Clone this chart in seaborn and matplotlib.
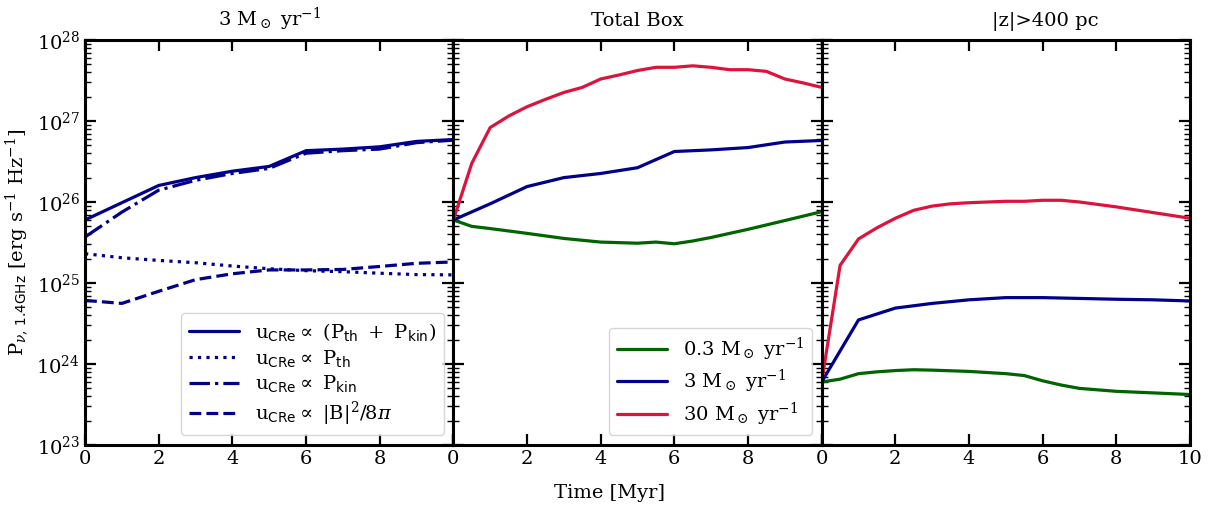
"""
Luminositat radio (1.4 GHz) vs temps: tres panells amb escala log.
"""
import matplotlib
matplotlib.use("Agg")
import matplotlib.pyplot as plt
import seaborn as sns

# =========================
# DADES
# =========================
# panell 1: 3 Msun/yr, diferents prescripcions de u_CRe
t_p1 = [0, 1, 2, 3, 4, 5, 6, 7, 8, 9, 10]
p1_total = [6.0e25, 9.8e25, 1.6e26, 2.0e26, 2.4e26, 2.75e26, 4.3e26, 4.5e26, 4.8e26, 5.6e26, 5.9e26]
p1_th = [2.3e25, 2.05e25, 1.9e25, 1.78e25, 1.62e25, 1.5e25, 1.42e25, 1.38e25, 1.32e25, 1.27e25, 1.26e25]
p1_kin = [3.7e25, 7.5e25, 1.4e26, 1.85e26, 2.25e26, 2.6e26, 4.0e26, 4.3e26, 4.5e26, 5.4e26, 5.8e26]
p1_mag = [6.1e24, 5.6e24, 7.9e24, 1.1e25, 1.3e25, 1.45e25, 1.45e25, 1.47e25, 1.6e25, 1.75e25, 1.82e25]

# panell 2: caixa total
t_box_03 = [0, 0.5, 1, 2, 3, 4, 5, 5.5, 6, 6.5, 7, 8, 9, 10]
box_03 = [6.0e25, 5.0e25, 4.7e25, 4.1e25, 3.55e25, 3.2e25, 3.1e25, 3.2e25, 3.05e25, 3.3e25, 3.65e25, 4.6e25, 5.9e25, 7.6e25]
t_box_3 = [0, 1, 2, 3, 4, 5, 6, 7, 8, 9, 10]
box_3 = [6.0e25, 9.5e25, 1.55e26, 2.0e26, 2.25e26, 2.65e26, 4.2e26, 4.4e26, 4.7e26, 5.5e26, 5.75e26]
t_box_30 = [0, 0.5, 1, 1.5, 2, 2.5, 3, 3.5, 4, 4.5, 5, 5.5, 6, 6.5, 7, 7.5, 8, 8.5, 9, 9.5, 10]
box_30 = [6.0e25, 3.0e26, 8.3e26, 1.15e27, 1.5e27, 1.85e27, 2.25e27, 2.6e27, 3.3e27, 3.7e27, 4.2e27,
          4.6e27, 4.6e27, 4.8e27, 4.6e27, 4.3e27, 4.3e27, 4.1e27, 3.3e27, 2.95e27, 2.6e27]

# panell 3: |z| > 400 pc
t_z_03 = [0, 0.5, 1, 1.5, 2, 2.5, 3, 4, 5, 5.5, 6, 6.5, 7, 8, 9, 10]
z_03 = [6.0e23, 6.5e23, 7.6e23, 8.0e23, 8.3e23, 8.5e23, 8.4e23, 8.1e23, 7.6e23, 7.2e23, 6.2e23, 5.5e23,
        5.0e23, 4.6e23, 4.4e23, 4.2e23]
t_z_3 = [0, 1, 2, 3, 4, 5, 6, 7, 8, 9, 10]
z_3 = [6.0e23, 3.5e24, 4.9e24, 5.6e24, 6.2e24, 6.6e24, 6.6e24, 6.45e24, 6.3e24, 6.2e24, 6.0e24]
t_z_30 = [0, 0.5, 1, 1.5, 2, 2.5, 3, 3.5, 4, 5, 5.5, 6, 6.5, 7, 8, 9, 10]
z_30 = [6.0e23, 1.65e25, 3.5e25, 4.8e25, 6.3e25, 7.9e25, 8.9e25, 9.5e25, 9.8e25, 1.02e26, 1.02e26,
        1.05e26, 1.05e26, 1.0e26, 8.7e25, 7.4e25, 6.3e25]

titols = [r'3 M$_\odot$ yr$^{-1}$', 'Total Box', r'|z|>400 pc']
lab_sfr = [r'0.3 M$_\odot$ yr$^{-1}$', r'3 M$_\odot$ yr$^{-1}$', r'30 M$_\odot$ yr$^{-1}$']
lab_ucre = [r'$\mathrm{u}_{\mathsf{CRe}} \propto\ (\mathrm{P}_{\mathsf{th}}\ +\ \mathrm{P}_{\mathsf{kin}})$',
            r'$\mathrm{u}_{\mathsf{CRe}} \propto\ \mathrm{P}_{\mathsf{th}}$',
            r'$\mathrm{u}_{\mathsf{CRe}} \propto\ \mathrm{P}_{\mathsf{kin}}$',
            r'$\mathrm{u}_{\mathsf{CRe}} \propto\ |\mathrm{B}|^2/8\pi$']

col_03 = '#006400'
col_3 = '#00008B'
col_30 = '#DC143C'

# =========================
# ESTIL
# =========================
sns.set_style("ticks")
plt.rcParams['font.family'] = ['DejaVu Serif']
plt.rcParams['mathtext.fontset'] = 'dejavuserif'
plt.rcParams['font.size'] = 14
for k in ['text.color', 'axes.labelcolor', 'xtick.color', 'ytick.color', 'axes.edgecolor']:
    plt.rcParams[k] = 'black'

fig, axes = plt.subplots(1, 3, figsize=(12.2, 5.05), dpi=100, sharey=True)
fig.subplots_adjust(left=0.0697, right=0.9754, top=0.9208, bottom=0.1188, wspace=0)

lw = 2.3
ax = axes[0]
sns.lineplot(x=t_p1, y=p1_total, ax=ax, color=col_3, lw=lw, ls='-', label=lab_ucre[0])
sns.lineplot(x=t_p1, y=p1_th, ax=ax, color=col_3, lw=lw, ls=':', label=lab_ucre[1])
sns.lineplot(x=t_p1, y=p1_kin, ax=ax, color=col_3, lw=lw, ls='-.', label=lab_ucre[2])
sns.lineplot(x=t_p1, y=p1_mag, ax=ax, color=col_3, lw=lw, ls='--', label=lab_ucre[3])

ax = axes[1]
sns.lineplot(x=t_box_03, y=box_03, ax=ax, color=col_03, lw=lw, label=lab_sfr[0])
sns.lineplot(x=t_box_3, y=box_3, ax=ax, color=col_3, lw=lw, label=lab_sfr[1])
sns.lineplot(x=t_box_30, y=box_30, ax=ax, color=col_30, lw=lw, label=lab_sfr[2])

ax = axes[2]
sns.lineplot(x=t_z_03, y=z_03, ax=ax, color=col_03, lw=lw, legend=False)
sns.lineplot(x=t_z_3, y=z_3, ax=ax, color=col_3, lw=lw, legend=False)
sns.lineplot(x=t_z_30, y=z_30, ax=ax, color=col_30, lw=lw, legend=False)

# posicio horitzontal dels titols (el tercer esta desplacat a la dreta)
titol_x = [0.5, 0.5, 0.606]

for i, ax in enumerate(axes):
    ax.set_yscale('log')
    ax.set_ylim(1e23, 1e28)
    ax.set_xlim(0, 10)
    ax.set_xticks([0, 2, 4, 6, 8, 10])
    if i < 2:
        ax.set_xticklabels(['0', '2', '4', '6', '8', ''])
    ax.set_title(titols[i], fontsize=14, pad=10, x=titol_x[i])
    ax.set_xlabel('')
    ax.set_ylabel('')
    for s in ax.spines.values():
        s.set_linewidth(2.2)
        s.set_color('black')
        s.set_visible(True)
    ax.tick_params(which='both', direction='in', top=True, right=True, labelsize=14, colors='black')
    ax.tick_params(which='major', length=8, width=1.6)
    ax.tick_params(which='minor', length=4, width=1.0)
    if i > 0:
        ax.tick_params(labelleft=False)

axes[0].set_ylabel(r'$\mathrm{P}_{\nu,\,\mathsf{1.4GHz}}\ [\mathrm{erg\ s^{-1}\ Hz^{-1}}]$', fontsize=14)
fig.supxlabel('Time [Myr]', fontsize=14, y=0.005)

for ax in axes[:2]:
    ax.legend(loc='lower right', fontsize=14, handlelength=2.6, labelspacing=0.25, borderpad=0.4)

plt.savefig("out.png", dpi=100)
plt.close()
